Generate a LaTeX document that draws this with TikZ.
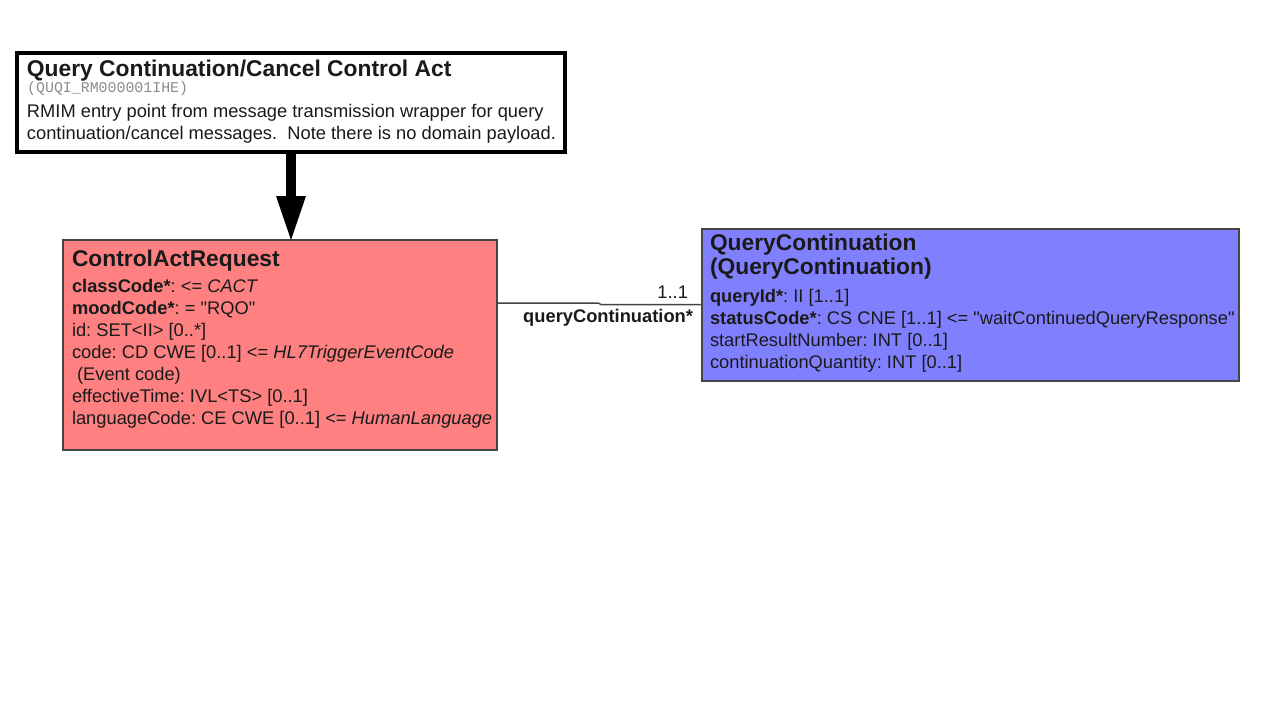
\documentclass[tikz,border=0pt]{standalone}
\usepackage{fontspec}
\setmainfont{Liberation Sans}[Ligatures=TeXOff]
\setmonofont{Liberation Mono}
\definecolor{redfill}{HTML}{FF8080}
\definecolor{bluefill}{HTML}{8080FF}
\definecolor{edgegray}{HTML}{454545}
\definecolor{txtdark}{HTML}{1A1A1A}
\definecolor{monogray}{HTML}{8C8C8C}
\frenchspacing
\begin{document}
\begin{tikzpicture}[x=1pt,y=-1pt,
  classbox/.style={draw=edgegray,line width=1.5pt,inner sep=0pt,outer sep=0pt,anchor=north west},
  ttl/.style={anchor=base west,inner sep=0pt,outer sep=0pt,text=txtdark,font=\fontsize{22.8}{24}\selectfont\bfseries},
  txt/.style={anchor=base west,inner sep=0pt,outer sep=0pt,text=txtdark,font=\fontsize{18.3}{22}\selectfont},
  lbl/.style={anchor=base east,inner sep=0pt,outer sep=0pt,text=txtdark,font=\fontsize{18.3}{22}\selectfont},
  conn/.style={draw=edgegray,line width=1.5pt}]
\useasboundingbox (0,0) rectangle (1280,720);
\fill[white] (0,0) rectangle (1280,720);

% top entry box
\node[draw=black,line width=4pt,fill=white,inner sep=0pt,outer sep=0pt,anchor=north west,
  minimum width=548pt,minimum height=99pt] (entry) at (17,53) {};
\node[ttl] (entryttl) at (27,76) {Query Continuation/Cancel Control Act};
\node[anchor=base west,inner sep=0pt,text=monogray,font=\fontsize{14.9}{16}\selectfont\ttfamily] (entryid) at (27,92) {(QUQI\_RM000001IHE)};
\node[txt] (entrytxt) at (27,117) {\vtop{\hbox{RMIM entry point from message transmission wrapper for query}\hbox{continuation/cancel messages.\ \ Note there is no domain payload.}}};

% ControlActRequest
\node[classbox,fill=redfill,minimum width=434pt,minimum height=210pt] (car) at (63,240) {};
\node[ttl] (carttl) at (72,266) {ControlActRequest};
\node[txt] (cartxt) at (72,292) {\vtop{%
  \hbox{\textbf{classCode*}: <= \textit{CACT}}%
  \hbox{\textbf{moodCode*}: = "RQO"}%
  \hbox{id: SET<II> [0..*]}%
  \hbox{code: CD CWE [0..1] <= \textit{HL7TriggerEventCode}}%
  \hbox{\ (Event code)}%
  \hbox{effectiveTime: IVL<TS> [0..1]}%
  \hbox{languageCode: CE CWE [0..1] <= \textit{HumanLanguage}}}};

% QueryContinuation
\node[classbox,fill=bluefill,minimum width=537pt,minimum height=152pt] (qc) at (702,229) {};
\node[ttl] (qcttl1) at (710,250) {QueryContinuation};
\node[ttl] (qcttl2) at (710,274) {(QueryContinuation)};
\node[txt] (qctxt) at (710,302) {\vtop{%
  \hbox{\textbf{queryId*}: II [1..1]}%
  \hbox{\textbf{statusCode*}: CS CNE [1..1] <= "waitContinuedQueryResponse"}%
  \hbox{startResultNumber: INT [0..1]}%
  \hbox{continuationQuantity: INT [0..1]}}};

% entry arrow
\coordinate (tip) at (car.north west -| 291,0);
\fill[black] (entry.south -| 286,0) rectangle (296,197);
\fill[black] (276,196) -- (306,196) -- (tip) -- cycle;

% association
\draw[conn] (car.east |- 0,303) -- (598,303) -- (601,304.5) -- (qc.west |- 0,304.5);
\node[lbl] (mult) at (688,298) {1..1};
\node[lbl] (role) at (693,322) {\textbf{queryContinuation*}};
\end{tikzpicture}
\end{document}
